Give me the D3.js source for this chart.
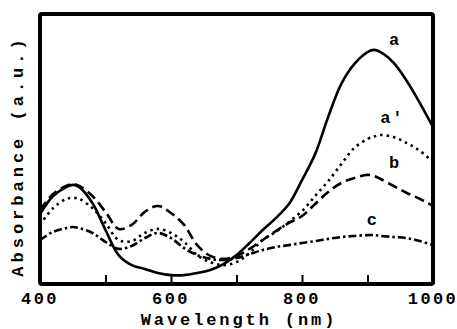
<!DOCTYPE html>
<html>
<head>
<meta charset="utf-8">
<script src="https://cdn.jsdelivr.net/npm/d3@7"></script>
<style>
  body { margin: 0; background: #fff; }
  text { font-family: "Liberation Mono", "DejaVu Sans Mono", monospace; font-weight: bold; fill: #000; }
</style>
</head>
<body>
<div id="chart"></div>
<script>
// wavelengths (nm) and absorbance (a.u.)
const wavelengths = [400, 420, 440, 450, 460, 480, 500, 520, 540, 560, 580, 600, 620, 640, 660, 680, 700,
  720, 740, 760, 780, 800, 820, 840, 860, 880, 900, 910, 920, 940, 960, 980, 1000];
const curveA = [25.9, 32.6, 35.9, 36.7, 35.9, 30.0, 20.0, 10.7, 7.0, 5.6, 4.1, 3.3, 3.3, 4.1, 5.2, 7.4, 10.7,
  15.2, 20.0, 24.4, 29.6, 38.5, 48.1, 61.9, 74.1, 81.5, 85.9, 86.7, 85.9, 81.9, 75.2, 67.0, 58.1];
const curveA2 = [21.9, 28.1, 31.5, 31.9, 31.5, 28.1, 22.6, 16.3, 15.9, 18.9, 20.4, 18.9, 15.6, 10.7, 8.1, 7.0, 8.1,
  11.5, 16.3, 19.3, 23.0, 27.0, 32.6, 38.1, 44.4, 50.4, 53.7, 54.6, 55.2, 54.4, 52.2, 49.3, 45.2];
const curveB = [27.4, 33.3, 36.3, 37.0, 36.3, 32.6, 26.7, 20.4, 21.9, 26.7, 28.9, 26.3, 21.9, 14.4, 10.4, 9.3, 10.4,
  13.0, 16.3, 19.6, 22.6, 25.2, 29.6, 34.1, 37.4, 39.3, 40.4, 40.0, 38.9, 36.3, 33.7, 31.5, 28.9];
const curveC = [16.3, 19.3, 20.7, 21.1, 20.7, 18.9, 15.6, 13.0, 14.1, 17.0, 18.9, 17.0, 13.3, 10.7, 9.3, 8.9, 9.6,
  11.1, 12.6, 13.7, 14.4, 15.2, 15.9, 16.7, 17.4, 17.8, 18.1, 18.1, 17.8, 17.4, 17.0, 15.9, 14.4];
const xTicks = [400, 500, 600, 700, 800, 900, 1000];
const xTickLabels = [400, 600, 800, 1000];

let width = 457;
let height = 329;
let mLeft = 40, mTop = 14, mRight = 433, mBottom = 284;

let svg = d3.select("#chart")
    .append("svg")
    .attr("width", width)
    .attr("height", height);

let x = d3.scaleLinear().domain([400, 1000]).range([mLeft, mRight]);
let y = d3.scaleLinear().domain([0, 100]).range([mBottom, mTop]);

// curves
let series = [
    { name: "a", values: curveA, dash: null },
    { name: "a'", values: curveA2, dash: "2.5,4" },
    { name: "b", values: curveB, dash: "10,5" },
    { name: "c", values: curveC, dash: "8,3,2.5,3" }
];

let line = d3.line()
    .x(d => x(d[0]))
    .y(d => y(d[1]))
    .curve(d3.curveCatmullRom);

svg.selectAll(".curve")
    .data(series)
    .enter()
    .append("path")
    .attr("class", "curve")
    .attr("d", s => line(wavelengths.map((w, i) => [w, s.values[i]])))
    .attr("fill", "none")
    .attr("stroke", "#000")
    .attr("stroke-width", 2.6)
    .attr("stroke-dasharray", s => s.dash);

// frame
svg.append("rect")
    .attr("x", mLeft)
    .attr("y", mTop)
    .attr("width", mRight - mLeft)
    .attr("height", mBottom - mTop)
    .attr("fill", "none")
    .attr("stroke", "#000")
    .attr("stroke-width", 4)
    .attr("rx", 2);

// bottom axis: inward ticks, labels every 200 nm
let xAxis = d3.axisBottom(x)
    .tickValues(xTicks)
    .tickSize(-9)
    .tickFormat("");
let gx = svg.append("g")
    .attr("transform", "translate(0," + mBottom + ")")
    .call(xAxis);
gx.select(".domain").remove();
gx.selectAll(".tick line").attr("stroke-width", 2);

svg.selectAll(".xlabel")
    .data(xTickLabels)
    .enter()
    .append("text")
    .attr("class", "xlabel")
    .attr("x", d => x(d))
    .attr("y", 304)
    .attr("text-anchor", "middle")
    .style("font-size", "17px")
    .style("letter-spacing", "2.4px")
    .text(d => d);

svg.append("text")
    .attr("x", 239)
    .attr("y", 325)
    .attr("text-anchor", "middle")
    .style("font-size", "17px")
    .style("letter-spacing", "2.9px")
    .text("Wavelength (nm)");

svg.append("text")
    .attr("transform", "translate(23,156) rotate(-90)")
    .attr("text-anchor", "middle")
    .style("font-size", "17px")
    .style("letter-spacing", "4px")
    .text("Absorbance (a.u.)");

// curve labels
let labels = [
    { t: "a", wl: 942, v: 88.5 },
    { t: "a'", wl: 938, v: 59.6 },
    { t: "b", wl: 942, v: 43 },
    { t: "c", wl: 908, v: 21.9 }
];
svg.selectAll(".clabel")
    .data(labels)
    .enter()
    .append("text")
    .attr("class", "clabel")
    .attr("x", d => x(d.wl))
    .attr("y", d => y(d.v))
    .attr("text-anchor", "middle")
    .style("font-size", "17px")
    .style("letter-spacing", "2px")
    .text(d => d.t);
</script>
</body>
</html>
